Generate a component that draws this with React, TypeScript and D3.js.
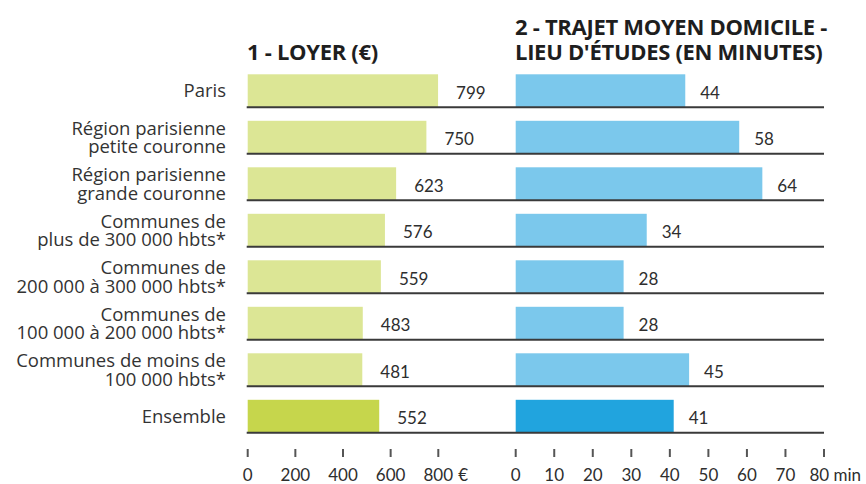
import { useEffect, useRef } from 'react'
import * as d3 from 'd3'

// row labels (each string is split on \n into lines)
const categories = [
  'Paris',
  'Région parisienne\npetite couronne',
  'Région parisienne\ngrande couronne',
  'Communes de\nplus de 300 000 hbts*',
  'Communes de\n200 000 à 300 000 hbts*',
  'Communes de\n100 000 à 200 000 hbts*',
  'Communes de moins de\n100 000 hbts*',
  'Ensemble',
]
const loyer = [799, 750, 623, 576, 559, 483, 481, 552]
const trajet = [44, 58, 64, 34, 28, 28, 45, 41]
const loyerTicks = [0, 200, 400, 600, 800]
const trajetTicks = [0, 10, 20, 30, 40, 50, 60, 70, 80]

export default function App() {
  const svgRef = useRef<any>()
  const width = 866
  const height = 484

  useEffect(() => {
    const svg = d3.select(svgRef.current)
    svg.selectAll('*').remove()
    const font = 'Lato, sans-serif'
    const textColor = '#2e2e2e'

    const xL = d3.scaleLinear().domain([0, 800]).range([247.7, 438.3])
    const xT = d3.scaleLinear().domain([0, 80]).range([515.7, 824])
    const y = d3.scalePoint().domain(categories).range([107.3, 432.8])
    const barH = 33
    const isTotal = (c: string) => c === 'Ensemble'

    // titles
    const titles = svg
      .append('g')
      .attr('font-family', "'Open Sans', sans-serif")
      .attr('font-weight', 700)
      .attr('fill', '#1e1e1e')
      .attr('font-size', 22)
      .attr('letter-spacing', -0.3)
    titles.append('text').attr('x', 247).attr('y', 60).text('1 - LOYER (€)')
    titles.append('text').attr('x', 515).attr('y', 35).text('2 - TRAJET MOYEN DOMICILE -')
    titles.append('text').attr('x', 515).attr('y', 60).text("LIEU D'ÉTUDES (EN MINUTES)")

    // row labels
    const labels = svg
      .append('g')
      .attr('font-family', "'Open Sans', sans-serif")
      .attr('font-size', 18.5)
      .attr('fill', '#333')
      .attr('text-anchor', 'end')
    categories.forEach((c) => {
      const lines = c.split('\n')
      const mid = y(c) - barH / 2
      const t = labels.append('text').attr('x', 226)
      lines.forEach((l, i) => {
        t.append('tspan')
          .attr('x', 226)
          .attr('y', mid + (i - (lines.length - 1) / 2) * 18.5)
          .attr('dy', '0.35em')
          .text(l)
      })
    })

    // loyer bars
    svg
      .append('g')
      .selectAll('rect')
      .data(categories)
      .join('rect')
      .attr('x', xL(0))
      .attr('y', (c) => y(c) - barH)
      .attr('width', (c, i) => xL(loyer[i]) - xL(0))
      .attr('height', barH)
      .attr('fill', (c) => (isTotal(c) ? '#c6d64c' : '#dce695'))

    // trajet bars
    svg
      .append('g')
      .selectAll('rect')
      .data(categories)
      .join('rect')
      .attr('x', xT(0))
      .attr('y', (c) => y(c) - barH)
      .attr('width', (c, i) => xT(trajet[i]) - xT(0))
      .attr('height', barH)
      .attr('fill', (c) => (isTotal(c) ? '#21a4de' : '#7bc8ec'))

    // value labels
    const vals = svg.append('g').attr('font-family', font).attr('font-size', 17).attr('fill', textColor)
    categories.forEach((c, i) => {
      const cy = y(c) - barH / 2 + 2
      vals.append('text').attr('x', xL(loyer[i]) + 18).attr('y', cy).attr('dy', '0.35em').text(loyer[i])
      vals.append('text').attr('x', xT(trajet[i]) + 15).attr('y', cy).attr('dy', '0.35em').text(trajet[i])
    })

    // baselines
    svg
      .append('g')
      .selectAll('line')
      .data(categories)
      .join('line')
      .attr('x1', xL(0) - 1)
      .attr('x2', xT(80))
      .attr('y1', (c) => y(c))
      .attr('y2', (c) => y(c))
      .attr('stroke', '#3a3a3a')
      .attr('stroke-width', 2)

    // axes (ticks + labels only)
    const axis = (g, scale, ticks) => {
      g.selectAll('line')
        .data(ticks)
        .join('line')
        .attr('x1', (d) => scale(d))
        .attr('x2', (d) => scale(d))
        .attr('y1', 449)
        .attr('y2', 457)
        .attr('stroke', '#555')
        .attr('stroke-width', 2)
      g.selectAll('text')
        .data(ticks)
        .join('text')
        .attr('x', (d) => scale(d))
        .attr('y', 475)
        .attr('dy', '0.35em')
        .attr('text-anchor', 'middle')
        .attr('font-family', font)
        .attr('font-size', 17)
        .attr('fill', textColor)
        .text((d) => String(d))
    }
    axis(svg.append('g'), xL, loyerTicks)
    axis(svg.append('g'), xT, trajetTicks.slice(0, -1))
    // last minute tick, label pulled in to fit with its unit
    const gT = svg.append('g')
    gT.append('line')
      .attr('x1', xT(80))
      .attr('x2', xT(80))
      .attr('y1', 449)
      .attr('y2', 457)
      .attr('stroke', '#555')
      .attr('stroke-width', 2)
    gT.append('text')
      .attr('x', 861)
      .attr('y', 475)
      .attr('dy', '0.35em')
      .attr('text-anchor', 'end')
      .attr('font-family', font)
      .attr('font-size', 17)
      .attr('fill', textColor)
      .text('80 min')
    svg
      .append('text')
      .attr('x', xL(800) + 20)
      .attr('y', 475)
      .attr('dy', '0.35em')
      .attr('font-family', font)
      .attr('font-size', 17)
      .attr('fill', textColor)
      .text('€')
  }, [])

  return (
    <svg
      ref={svgRef}
      width={width}
      height={height}
      style={{ position: 'absolute', left: 0, top: 0, background: '#fff' }}
    ></svg>
  )
}
